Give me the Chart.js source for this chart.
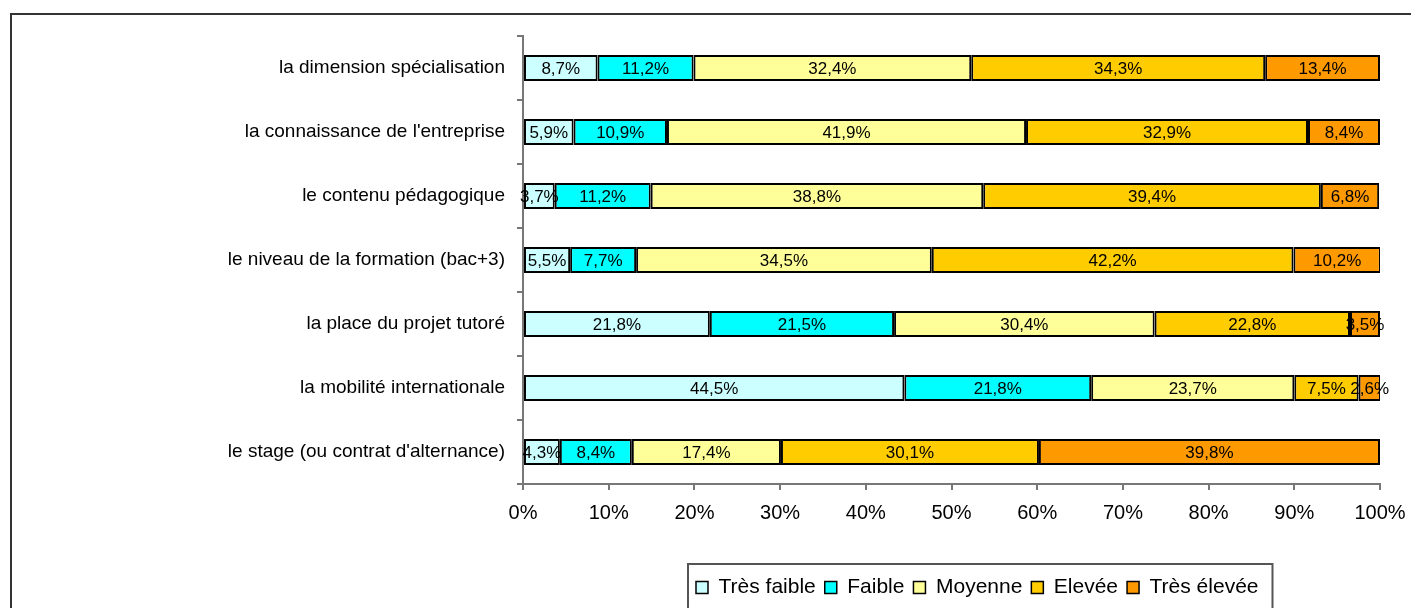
<!DOCTYPE html>
<html>
<head>
<meta charset="utf-8">
<script src="https://cdn.jsdelivr.net/npm/chart.js@4/dist/chart.umd.min.js"></script>
<style>
    html, body { margin: 0; padding: 0; background: #fff; overflow: hidden; }
    #frame { position: absolute; left: 10px; top: 13px; width: 1500px; height: 700px; border: 2px solid #333; }
    #wrap { position: absolute; left: 0; top: 0; width: 1411px; height: 608px; }
</style>
</head>
<body>
<div id="frame"></div>
<div id="wrap"><canvas id="satisfaction"></canvas></div>
<script>
var AnalyseStage = (function () {

    // Data

    var categories = [
        'la dimension spécialisation',
        'la connaissance de l\'entreprise',
        'le contenu pédagogique',
        'le niveau de la formation (bac+3)',
        'la place du projet tutoré',
        'la mobilité internationale',
        'le stage (ou contrat d\'alternance)'
    ];
    var seriesNames = ['Très faible', 'Faible', 'Moyenne', 'Elevée', 'Très élevée'];
    var tresFaible = [8.7, 5.9, 3.7, 5.5, 21.8, 44.5, 4.3];
    var faible     = [11.2, 10.9, 11.2, 7.7, 21.5, 21.8, 8.4];
    var moyenne    = [32.4, 41.9, 38.8, 34.5, 30.4, 23.7, 17.4];
    var elevee     = [34.3, 32.9, 39.4, 42.2, 22.8, 7.5, 30.1];
    var tresElevee = [13.4, 8.4, 6.8, 10.2, 3.5, 2.6, 39.8];
    var xTicks = [0, 10, 20, 30, 40, 50, 60, 70, 80, 90, 100];

    var colors = ['#CCFFFF', '#00FFFF', '#FFFF99', '#FFCC00', '#FF9900'];
    var values = [tresFaible, faible, moyenne, elevee, tresElevee];

    var LEGEND_X = 696; // left of first legend marker

    var $canvas = document.getElementById('satisfaction');

    // Plugins

    var barLabels = {
        id: 'barLabels',
        afterDatasetsDraw: function (chart) {
            var ctx = chart.ctx;
            ctx.save();
            ctx.font = '17px "Liberation Sans", Arial, sans-serif';
            ctx.fillStyle = '#000';
            ctx.textAlign = 'center';
            ctx.textBaseline = 'middle';
            chart.data.datasets.forEach(function (ds, i) {
                chart.getDatasetMeta(i).data.forEach(function (bar, j) {
                    var txt = ds.data[j].toFixed(1).replace('.', ',') + '%';
                    ctx.fillText(txt, (bar.x + bar.base) / 2, bar.y + 1);
                });
            });
            ctx.restore();
        }
    };

    // legend sits right of centre in the original, inside its own frame
    var legendBox = {
        id: 'legendBox',
        afterInit: function (chart) {
            var lg = chart.legend;
            var orig = lg.draw;
            lg.draw = function () {
                var boxes = this.legendHitBoxes;
                var dx = boxes && boxes.length ? LEGEND_X - boxes[0].left : 0;
                var ctx = chart.ctx;
                ctx.save();
                ctx.translate(dx, 0);
                orig.apply(this, arguments);
                if (boxes && boxes.length) {
                    var last = boxes[boxes.length - 1];
                    var left = boxes[0].left - 8;
                    var right = last.left + last.width + 14;
                    ctx.strokeStyle = '#555';
                    ctx.lineWidth = 2;
                    ctx.strokeRect(left, 564, right - left, 100);
                }
                ctx.restore();
            };
        }
    };

    // Methods

    function init($this) {

        var chart = new Chart($this, {
            type: 'bar',
            data: {
                labels: categories,
                datasets: seriesNames.map(function (name, i) {
                    return {
                        label: name,
                        data: values[i],
                        backgroundColor: colors[i],
                        borderColor: '#000',
                        borderWidth: 2,
                        borderSkipped: false,
                        categoryPercentage: 1,
                        barPercentage: 0.41
                    };
                })
            },
            options: {
                indexAxis: 'y',
                responsive: true,
                maintainAspectRatio: false,
                animation: false,
                layout: { padding: { top: 36, right: 31, left: 0, bottom: 0 } },
                scales: {
                    x: {
                        stacked: true,
                        min: 0,
                        max: 100,
                        afterBuildTicks: function (scale) {
                            scale.ticks = xTicks.map(function (v) { return { value: v }; });
                        },
                        afterFit: function (scale) {
                            scale.height = 84;
                            scale.paddingLeft = 0;
                            scale.paddingRight = 0;
                        },
                        border: { color: '#777', width: 2 },
                        grid: { drawOnChartArea: false, tickLength: 6, color: '#777', lineWidth: 2 },
                        ticks: {
                            color: '#000',
                            padding: 11,
                            font: { family: '"Liberation Sans", Arial, sans-serif', size: 20 },
                            callback: function (v) { return v + '%'; }
                        }
                    },
                    y: {
                        stacked: true,
                        afterFit: function (scale) { scale.width = 523; },
                        border: { color: '#777', width: 2 },
                        grid: { drawOnChartArea: false, tickLength: 6, color: '#777', lineWidth: 2 },
                        ticks: {
                            color: '#000',
                            padding: 12,
                            font: { family: '"Liberation Sans", Arial, sans-serif', size: 19 }
                        }
                    }
                },
                plugins: {
                    legend: {
                        position: 'bottom',
                        labels: {
                            boxWidth: 12,
                            boxHeight: 12,
                            padding: 9,
                            color: '#000',
                            font: { family: '"Liberation Sans", Arial, sans-serif', size: 21 },
                            generateLabels: function (c) {
                                return c.data.datasets.map(function (ds, i) {
                                    return {
                                        text: ds.label,
                                        fillStyle: ds.backgroundColor,
                                        strokeStyle: '#000',
                                        lineWidth: 1.5,
                                        datasetIndex: i
                                    };
                                });
                            }
                        }
                    },
                    tooltip: { enabled: false }
                }
            },
            plugins: [barLabels, legendBox]
        });

        $this.chart = chart;
    }

    // Events

    if ($canvas) {
        init($canvas);
    }

})();
</script>
</body>
</html>
